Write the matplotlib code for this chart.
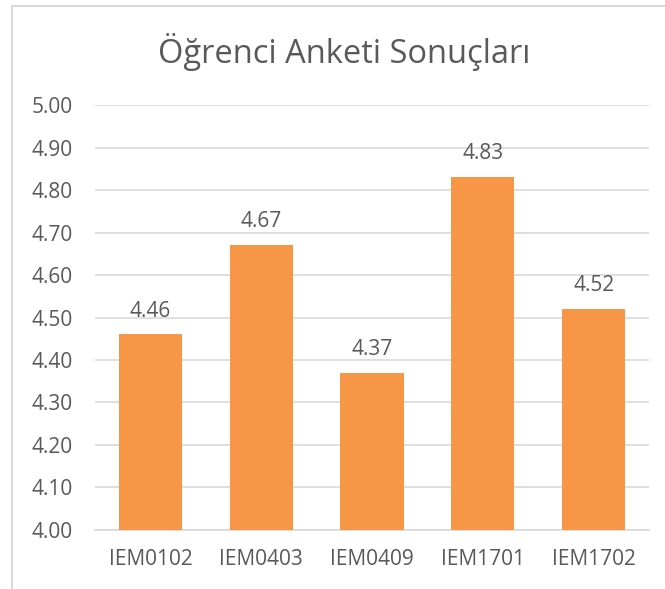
import matplotlib.pyplot as plt
from matplotlib.patches import Rectangle

courses = ['IEM0102', 'IEM0403', 'IEM0409', 'IEM1701', 'IEM1702']
scores = [4.46, 4.67, 4.37, 4.83, 4.52]
yticks = [4.00, 4.10, 4.20, 4.30, 4.40, 4.50, 4.60, 4.70, 4.80, 4.90, 5.00]

plt.rcParams['font.family'] = ['Open Sans', 'DejaVu Sans']
gray = '#595959'

fig = plt.figure(figsize=(6.65, 5.89), dpi=100)
ax = fig.add_axes([0.1429, 0.1002, 0.8331, 0.7215])

# outer chart border (only top and left visible)
fig.patches.append(Rectangle((12/665, -0.1), 1.2, (589-6)/589 + 0.1, transform=fig.transFigure,
                             fill=False, edgecolor='#D9D9D9', linewidth=1.5))

x = range(len(courses))
bars = ax.bar(x, scores, width=0.57, color='#F79646', zorder=3)
for xi, v in zip(x, scores):
    ax.text(xi, v + 0.042, f'{v:.2f}', ha='center', va='baseline', fontsize=15, color=gray)

ax.set_xlim(-0.5, len(courses) - 0.5)
ax.set_ylim(4.0, 5.0)
ax.set_yticks(yticks)
ax.set_yticklabels([f'{t:.2f}' for t in yticks])
ax.set_xticks(list(x))
ax.set_xticklabels(courses)
ax.tick_params(axis='both', length=0, labelsize=15, colors=gray)
ax.tick_params(axis='y', pad=16)
ax.tick_params(axis='x', pad=14)
ax.grid(axis='y', color='#D9D9D9', linewidth=1.2, zorder=0)
for s in ['top', 'right', 'left']:
    ax.spines[s].set_visible(False)
ax.spines['bottom'].set_color('#D9D9D9')
ax.spines['bottom'].set_linewidth(1.2)

fig.text(0.517, 0.912, 'Öğrenci Anketi Sonuçları', ha='center', va='center', fontsize=23.5, color=gray)

fig.savefig('out.png', dpi=100)
